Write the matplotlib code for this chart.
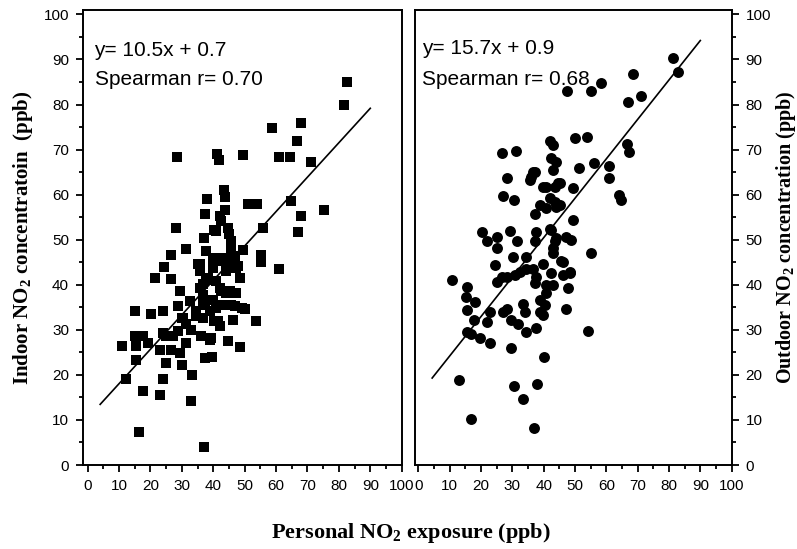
import numpy as np
import matplotlib
matplotlib.use("Agg")
import matplotlib.pyplot as plt
from matplotlib.ticker import MultipleLocator

plt.rcParams['font.family'] = ['Liberation Sans', 'DejaVu Sans']
plt.rcParams['mathtext.fontset'] = 'custom'
plt.rcParams['mathtext.rm'] = 'Liberation Serif:bold'
plt.rcParams['mathtext.bf'] = 'Liberation Serif:bold'

# personal vs indoor NO2 (ppb)
indoor_x = [82.5, 81.5, 68, 58.6, 66.8, 28.6, 41.3, 41.8, 49.6, 60.8, 64.3, 71,
            43.3, 43.6, 38.1, 51, 53.9, 64.9, 75.2, 43.6, 37.3, 42, 67.8, 67,
            28.3, 40.8, 44.6, 55.8, 45, 37, 45.5, 31.4, 37.8, 26.6, 49.5, 55.3, 55.2, 40, 42.6, 46.8, 24.3, 35.7, 60.9,
            21.3, 26.6, 29.3, 15, 20.3, 24, 10.9, 15, 17.6, 15.5, 19.2, 23, 15.5, 12.3, 17.6, 22.9, 24, 25.1, 25.1,
            27.2, 26.6, 29.3, 31.4, 29.9, 33.3, 33, 16.5, 37,
            28.8, 29.9, 31.4, 33, 32.5, 34.6, 36.7, 37.3, 39.9, 38.9, 36.2, 38.9, 37.3, 39.7, 44.7, 48.4, 53.7, 50,
            46.8, 46.3, 42, 41.4, 43, 47.3, 45.2, 42.6, 35.7, 37.8, 41, 48.4, 35.7, 40, 44.2, 46.3, 47.3, 42,
            42.6, 40.4, 45.8, 45.8, 35.1, 38.3, 36.7, 42, 36.7, 44.2, 47.4, 36.7, 34.6, 41, 45.8, 49, 30.4, 40.4,
            28.8, 24, 39.4, 45.2, 47.9, 42.6]
indoor_y = [85, 80, 76, 74.7, 72, 68.4, 69, 67.6, 68.7, 68.4, 68.4, 67.3,
            61, 59.5, 59, 58, 58, 58.6, 56.7, 56.7, 55.8, 55.3, 55.3, 51.6,
            52.5, 52, 52.7, 52.5, 51.3, 50.4, 49.3, 48, 47.5, 46.6, 47.8, 46.7, 45, 46, 46, 46.4, 44, 44.5, 43.4,
            41.6, 41.2, 38.6, 34.2, 33.4, 34.2, 26.4, 28.7, 28.7, 26.4, 27.1, 25.6, 23.3, 19, 16.4, 15.6, 19, 22.7, 28.7,
            28.7, 25.6, 24.9, 27.1, 22.3, 20, 14.2, 7.3, 4,
            35.2, 32.7, 31.2, 30, 36.4, 33.1, 32.7, 35.6, 36.7, 34.2, 28.7, 27.8, 23.8, 23.9, 27.5, 26.2, 32, 34.7,
            35.2, 32.2, 30.8, 31.9, 35.6, 38.2, 38.6, 38.6, 39.3, 41.1, 40.8, 41.6, 43.1, 43.8, 43.1, 44.5, 43.8, 45.3,
            54.2, 52.1, 49.7, 47.3, 44.5, 41.6, 40.1, 39.3, 37.8, 38.2, 38.2, 36.4, 34.2, 34.9, 35.6, 34.9, 32.7, 31.9,
            29.7, 29.3, 28.2, 45.3, 44.2, 45.6]

# personal vs outdoor NO2 (ppb)
outdoor_x = [81.4, 82.9, 68.4, 71.2, 66.8, 58.3, 55.1, 47.5, 50, 53.8, 41.9, 43, 66.6, 67.3, 26.8, 31.1,
             42.4, 56, 61, 51.2, 43, 36.6, 35.9, 28.4, 60.7, 45.1, 43.5, 49.3, 40.9, 64.1, 64.7, 27.1, 30.6,
             41.9, 43.5, 38.7, 40.9, 44, 37.1, 49.3, 20.2, 25, 22, 29.2, 31.5, 37.4, 37.1, 42.4, 43.5, 47.2,
             48.8, 25, 55.1, 30.3, 34.5, 43, 24.4, 36.6, 46.1, 48.3, 10.7,
             15.5, 15.1, 18.1, 15.5, 17.6, 15.5, 16.7, 19.7, 22.9, 22.9, 22, 27.1, 28.2, 25, 28.2, 30.8, 32.4,
             34.5, 37.7, 37.1, 40.9, 40.9, 43, 42.4, 46.1, 48.3, 47.7, 38.7, 40.3, 38.7, 39.8, 47.2, 33.4, 34,
             29.7, 31.8, 34.5, 37.7, 54.3, 29.5, 40, 13, 30.6, 37.9, 33.4, 16.7, 36.8,
             44, 37.1, 35.6, 39.8, 44.5, 45.1, 41.9, 44, 43, 45.6, 26.6, 39.8]
outdoor_y = [90.3, 87.2, 86.7, 81.9, 80.5, 84.7, 83, 82.9, 72.5, 72.9, 71.8, 71, 71.2, 69.4, 69.2, 69.6,
             68.1, 67.1, 66.4, 65.8, 65.5, 65.1, 64, 63.8, 63.6, 62.5, 61.8, 61.4, 61.8, 59.9, 58.8, 59.8, 58.7,
             59.2, 58.4, 57.7, 57, 57.3, 55.8, 54.4, 51.8, 50.7, 49.6, 51.9, 49.7, 51.8, 49.6, 52.1, 49.6, 50.7,
             49.9, 48.1, 47, 46.2, 46.2, 47, 44.4, 43.6, 45.1, 42.9, 41,
             39.6, 37.3, 36.2, 34.4, 32.1, 29.6, 29, 28.1, 27, 34, 31.8, 34, 34.7, 40.7, 41.8, 42.1, 42.9,
             43.6, 41.8, 40.3, 39.9, 38.1, 39.9, 42.5, 42.2, 42.5, 39.2, 36.6, 35.5, 34, 33.3, 34.7, 35.8, 34,
             32.1, 31.4, 29.6, 30.4, 29.7, 26, 24, 18.8, 17.6, 17.9, 14.7, 10.3, 8.2,
             67.3, 65.1, 63.3, 61.8, 62.5, 57.7, 52.4, 50.3, 48.1, 45.3, 41.8, 44.5]

# fitted lines as drawn: slope, intercept, x range
indoor_fit = (0.764, 10.4)
indoor_fit_range = [4, 90]
outdoor_fit = (0.875, 15.45)
outdoor_fit_range = [4.4, 90]

indoor_text = ["y= 10.5x + 0.7", "Spearman r= 0.70"]
outdoor_text = ["y= 15.7x + 0.9", "Spearman r= 0.68"]

fig = plt.figure(figsize=(7.97, 5.49), dpi=100)
ax1 = fig.add_axes([0.104, 0.153, 0.400, 0.829])
ax2 = fig.add_axes([0.521, 0.153, 0.397, 0.829])


def style_axis(ax, side):
    ax.set_xlim(-1.5, 100)
    ax.set_ylim(0, 101)
    ax.xaxis.set_major_locator(MultipleLocator(10))
    ax.xaxis.set_minor_locator(MultipleLocator(5))
    ax.yaxis.set_major_locator(MultipleLocator(10))
    ax.yaxis.set_minor_locator(MultipleLocator(5))
    for sp in ax.spines.values():
        sp.set_linewidth(1.4)
    ax.tick_params(which='both', direction='out', width=1.3, labelsize=11,
                   top=False, bottom=True, left=(side == 'left'), right=(side == 'right'),
                   labelleft=(side == 'left'), labelright=(side == 'right'))
    ax.tick_params(which='major', length=5, pad=5)
    ax.tick_params(which='minor', length=3)


style_axis(ax1, 'left')
style_axis(ax2, 'right')
ax2.set_xlim(-1, 100)

ax1.scatter(indoor_x, indoor_y, marker='s', s=46, color='black', linewidths=0)
ax2.scatter(outdoor_x, outdoor_y, marker='o', s=62, color='black', linewidths=0)

fx = np.array(indoor_fit_range)
ax1.plot(fx, indoor_fit[0] * fx + indoor_fit[1], color='black', lw=1.2)
fx = np.array(outdoor_fit_range)
ax2.plot(fx, outdoor_fit[0] * fx + outdoor_fit[1], color='black', lw=1.2)

ax1.text(2.2, 92, indoor_text[0], fontsize=15, ha='left', va='center')
ax1.text(2.2, 85.5, indoor_text[1], fontsize=15, ha='left', va='center')
ax2.text(1.3, 92.4, outdoor_text[0], fontsize=15, ha='left', va='center')
ax2.text(1.3, 85.5, outdoor_text[1], fontsize=15, ha='left', va='center')

lab = dict(family='Liberation Serif', fontweight='bold', fontsize=15)
ax1.set_ylabel(r'Indoor NO$_{2}$ concentratoin  (ppb)', labelpad=6, **lab)
ax2.yaxis.set_label_position('right')
ax2.set_ylabel(r'Outdoor NO$_{2}$ concentration (ppb)', labelpad=2,
               family='Liberation Serif', fontweight='bold', fontsize=14.5)
fig.text(0.515, 0.029, r'Personal NO$_{2}$ exposure (ppb)', ha='center', va='center',
         family='Liberation Serif', fontweight='bold', fontsize=16)

fig.savefig('out.png', dpi=100)
plt.close(fig)
